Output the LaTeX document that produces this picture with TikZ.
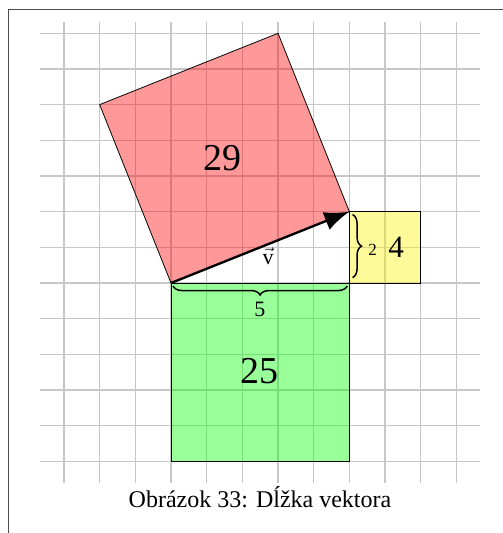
\documentclass[tikz,border=0pt]{standalone}
\usepackage{fontspec}
\setmainfont{Liberation Serif}
\usetikzlibrary{arrows.meta,decorations.pathreplacing}
\begin{document}
\begin{tikzpicture}[x=35.67pt,y=35.67pt,
  gridline/.style={draw=black!22, line width=1.1pt},
  frameline/.style={draw=black!70, line width=0.9pt},
  sqline/.style={draw=black, line width=0.8pt},
  bracestyle/.style={draw=black, line width=1.5pt, decorate, decoration={brace, amplitude=9pt}},
  lbl/.style={inner sep=0pt}]
\useasboundingbox (-171pt,-250pt) rectangle (332pt,283pt);
% frame
\draw[frameline] (-163pt,-250pt) -- (-163pt,273.5pt) -- (332pt,273.5pt);
% grid
\foreach \i in {-3,...,8} \draw[gridline] (\i,-5.61) -- (\i,7.33);
\foreach \j in {-5,...,7} \draw[gridline] (-3.67,\j) -- (8.67,\j);
% corners
\coordinate (O) at (0,0);
\coordinate (A) at (5,2);
\coordinate (B) at (3,7);
\coordinate (C) at (-2,5);
\coordinate (G) at (5,-5);
\coordinate (Y0) at (5,0);
\coordinate (Y1) at (7,2);
% fills
\fill[red, fill opacity=0.4] (O) -- (A) -- (B) -- (C) -- cycle;
\fill[green, fill opacity=0.4] (O) rectangle (G);
\fill[yellow, fill opacity=0.4] (Y0) rectangle (Y1);
% outlines
\draw[sqline] (O) -- (A) -- (B) -- (C) -- cycle;
\draw[sqline] (O) rectangle (G);
\draw[sqline] (Y0) rectangle (Y1);
% vector
\draw[line width=2.4pt, -{Latex[length=25pt,width=19pt]}] (O) -- (A);
% braces
\coordinate (b1) at (4.94,-0.085);
\coordinate (b2) at (0.056,-0.085);
\coordinate (r1) at (5.09,1.92);
\coordinate (r2) at (5.09,0.15);
\draw[bracestyle] (b1) -- (b2);
\draw[bracestyle] (r1) -- (r2);
% labels
\node[lbl, font=\fontsize{38}{42}\selectfont] (n29) at (1.44,3.5) {29};
\node[lbl, font=\fontsize{38}{42}\selectfont] (n25) at (2.48,-2.48) {25};
\node[lbl, font=\fontsize{31}{36}\selectfont] (n4) at (6.31,1.0) {4};
\node[lbl, font=\fontsize{17}{20}\selectfont] (n2) at (5.65,0.94) {2};
\node[lbl, font=\fontsize{22}{26}\selectfont] (n5) at (2.49,-0.73) {5};
\node[lbl, font=\fontsize{22}{26}\selectfont] (nv) at (2.72,0.75) {$\vec{\mathrm{v}}$};
% caption
\node[lbl, font=\fontsize{24}{28}\selectfont] (cap) at (89pt,-214pt) {Obrázok 33: Dĺžka vektora};
\end{tikzpicture}
\end{document}
